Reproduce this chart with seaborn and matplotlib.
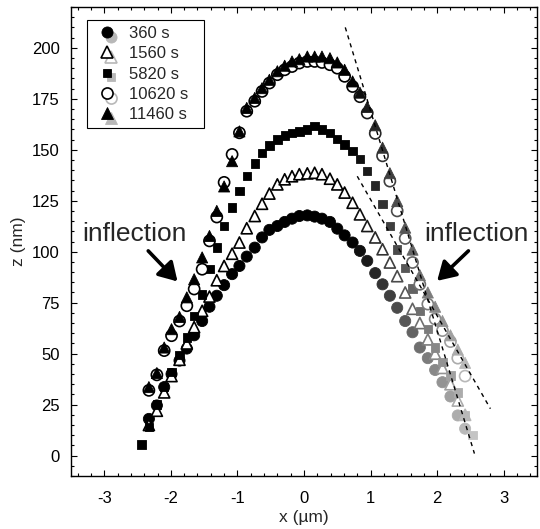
import numpy as np
import pandas as pd
import matplotlib
matplotlib.use("Agg")
import matplotlib.pyplot as plt
import seaborn as sns
from matplotlib.lines import Line2D
from matplotlib.legend_handler import HandlerBase
from matplotlib.ticker import MultipleLocator

# ---------------- data ----------------
# common lateral sampling positions (um)
x_grid = [-2.44, -2.33, -2.21, -2.10, -1.99, -1.87, -1.76, -1.65, -1.53, -1.42,
          -1.31, -1.20, -1.08, -0.97, -0.86, -0.74, -0.63, -0.52, -0.40, -0.29,
          -0.18, -0.07, 0.05, 0.16, 0.27, 0.39, 0.50, 0.61, 0.73, 0.84,
          0.95, 1.07, 1.18, 1.29, 1.40, 1.52, 1.63, 1.74, 1.86, 1.97,
          2.08, 2.20, 2.31, 2.42, 2.53]

labels = ["360 s", "1560 s", "5820 s", "10620 s", "11460 s"]

z_360 = [18, 24.6, 33.6, 40, 46.6, 52.5, 59, 66, 73, 78.4,
         83.6, 89, 93, 97.6, 102, 107, 110.7, 112.6, 114.6, 116.2,
         117.5, 117.8, 117.2, 116.2, 114.6, 111.3, 108, 104.5, 100.4, 95.5,
         89.5, 84, 78.4, 72.5, 66, 60.5, 53, 47.8, 42, 36, 29, 19.7, 13.2]
x_360 = x_grid[1:44]

z_1560 = [15, 22, 31, 39, 47, 55, 63, 71, 78, 86,
          93, 99, 104.5, 111.5, 117.5, 123.5, 128.5, 133, 135.5, 137,
          138, 138.4, 138.7, 138, 135.8, 133, 129, 124, 118.3, 112.6,
          107, 101.2, 94.7, 88, 80, 72, 65, 57, 50, 43, 35, 27, 20]
x_1560 = x_grid[1:44]

z_5820 = [5.5, 14, 25, 33.6, 41, 49.5, 58, 68.6, 79, 91.4,
          102, 112.6, 121.6, 129.7, 137, 143.3, 148.5, 152, 155, 157,
          158.3, 159, 160, 161.5, 160, 158.3, 155.4, 152.6, 149.3, 145.5,
          139.5, 132.5, 123.5, 112.6, 101, 92, 82, 71, 62, 53,
          45.8, 39.3, 31, 19.7, 10]
x_5820 = x_grid[0:45]

z_10620 = [32, 39.6, 51.5, 58.8, 66, 73.5, 81.7, 91.4, 105.3, 117,
           134, 147.7, 158.3, 168.9, 173.8, 178.6, 182.7, 186.8, 189.2, 190.8,
           192.5, 193.3, 193.3, 192.8, 191.7, 190, 186, 181, 176, 168,
           158, 147, 134.6, 120, 106.5, 94.7, 84, 74.3, 67, 61.3, 55.9, 47.8, 39]
x_10620 = x_grid[1:44]

z_11460 = [33.6, 40.5, 53, 62, 68, 77.6, 86.5, 97.2, 107.7, 120,
           132, 144.4, 159, 170.5, 175.4, 180.2, 184.3, 188.5, 191.2, 193.3,
           194.4, 195.7, 195.7, 195.7, 194.9, 192.8, 189.2, 183.5, 178, 171,
           162, 151, 138.5, 124.8, 111.8, 101, 88.5, 80, 73, 66, 59, 52, 45.5]
x_11460 = x_grid[1:44]

# dashed tangent lines (end points)
line_a_x = [0.62, 2.56]
line_a_z = [210, 1]
line_b_x = [0.80, 2.80]
line_b_z = [137, 23]

# ---------------- style ----------------
sns.set_style("ticks")
plt.rcParams['font.family'] = ['Liberation Sans', 'DejaVu Sans']
plt.rcParams['axes.edgecolor'] = 'black'
plt.rcParams['axes.linewidth'] = 1.0

fig = plt.figure(figsize=(5.4, 5.29), dpi=100)
L, R, T, B = 71, 537, 7, 476
ax = fig.add_axes([L / 540, 1 - B / 529, (R - L) / 540, (B - T) / 529])

gray_cmap = matplotlib.colormaps['gray']


def shade_of(xs):
    # markers on the right flank fade from black to light gray
    xs = np.asarray(xs, dtype=float)
    return np.clip((xs - 0.70) / (2.42 - 0.70), 0, 1.08) * 0.72


series = [
    (x_360, z_360, 'o', 64, False),
    (x_1560, z_1560, '^', 64, True),
    (x_5820, z_5820, 's', 36, False),
    (x_10620, z_10620, 'o', 64, True),
    (x_11460, z_11460, '^', 64, False),
]

for xs, zs, mk, size, is_open in series:
    df = pd.DataFrame({'x': xs, 'z': zs, 'shade': shade_of(xs)})
    sns.scatterplot(data=df, x='x', y='z', hue='shade', palette=gray_cmap,
                    hue_norm=(0, 1), marker=mk, s=size, legend=False, ax=ax,
                    linewidth=0.6, edgecolor='black', zorder=3)
    coll = ax.collections[-1]
    fcs = coll.get_facecolors()
    coll.set_edgecolors(fcs)
    if is_open:
        coll.set_facecolors('white')
        coll.set_linewidths(1.2)
    else:
        coll.set_linewidths(0.6)

sns.lineplot(x=line_a_x, y=line_a_z, ax=ax, color='black', lw=1.0,
             linestyle=(0, (3, 3)), zorder=4)
sns.lineplot(x=line_b_x, y=line_b_z, ax=ax, color='black', lw=1.0,
             linestyle=(0, (3, 3)), zorder=4)

# annotations
ax.text(-2.55, 108.5, "inflection", fontsize=19, ha='center', va='center')
ax.text(2.59, 108.5, "inflection", fontsize=19, ha='center', va='center')
arrow_kw = dict(arrowstyle='-|>,head_length=0.5,head_width=0.3', lw=2.6,
                color='black', mutation_scale=22, shrinkA=0, shrinkB=0)
ax.annotate('', xy=(-1.90, 85.4), xytext=(-2.34, 100.4), arrowprops=arrow_kw)
ax.annotate('', xy=(2.00, 85.7), xytext=(2.47, 100.4), arrowprops=arrow_kw)

# axes
ax.set_xlim(-3.5, 3.5)
ax.set_ylim(-10, 220)
ax.xaxis.set_major_locator(MultipleLocator(1))
ax.xaxis.set_minor_locator(MultipleLocator(0.2))
ax.yaxis.set_major_locator(MultipleLocator(25))
ax.yaxis.set_minor_locator(MultipleLocator(5))
ax.tick_params(which='both', direction='in', top=True, right=True,
               colors='black', width=0.8, labelsize=12)
ax.tick_params(which='major', length=4.5)
ax.tick_params(which='minor', length=2.3)
ax.tick_params(axis='x', which='major', pad=11)
ax.tick_params(axis='y', which='major', pad=8)
ax.set_xticks([-3, -2, -1, 0, 1, 2, 3])
ax.set_xticklabels(['-3', '-2', '-1', '0', '1', '2', '3'])
ax.set_xlabel("x (\u00b5m)", fontsize=12.5, labelpad=2.5)
ax.set_ylabel("z (nm)", fontsize=12.5, labelpad=4)
for sp in ax.spines.values():
    sp.set_color('black')
    sp.set_linewidth(1.0)


# legend with paired black / gray markers
class PairHandler(HandlerBase):
    def create_artists(self, legend, orig_handle, xdescent, ydescent,
                       width, height, fontsize, trans):
        cx = 0.5 * width - xdescent
        cy = 0.5 * height - ydescent
        d = 3.2
        mk = orig_handle.get_marker()
        ms = orig_handle.get_markersize()
        is_open = getattr(orig_handle, 'is_open', False)
        gcol = '#b8b8b8'
        g = Line2D([cx + d], [cy - d], marker=mk, markersize=ms,
                   markerfacecolor='white' if is_open else gcol,
                   markeredgecolor=gcol, markeredgewidth=1.2 if is_open else 0.6,
                   linestyle='none', transform=trans)
        b = Line2D([cx], [cy], marker=mk, markersize=ms,
                   markerfacecolor='white' if is_open else 'black',
                   markeredgecolor='black', markeredgewidth=1.2 if is_open else 0.6,
                   linestyle='none', transform=trans)
        return [g, b]


handles = []
for (xs, zs, mk, size, is_open), lab in zip(series, labels):
    h = Line2D([], [], marker=mk, markersize=np.sqrt(size), linestyle='none')
    h.is_open = is_open
    handles.append(h)

leg = ax.legend(handles, [lab + "  " for lab in labels],
                handler_map={Line2D: PairHandler()},
                loc='upper left', bbox_to_anchor=(0.034, 0.972),
                borderaxespad=0, fontsize=12, frameon=True, fancybox=False,
                framealpha=1, edgecolor='black', handlelength=1.7,
                handletextpad=0.5, labelspacing=0.32, borderpad=0.35)
leg.get_frame().set_linewidth(0.8)

fig.savefig("out.png", dpi=100)
